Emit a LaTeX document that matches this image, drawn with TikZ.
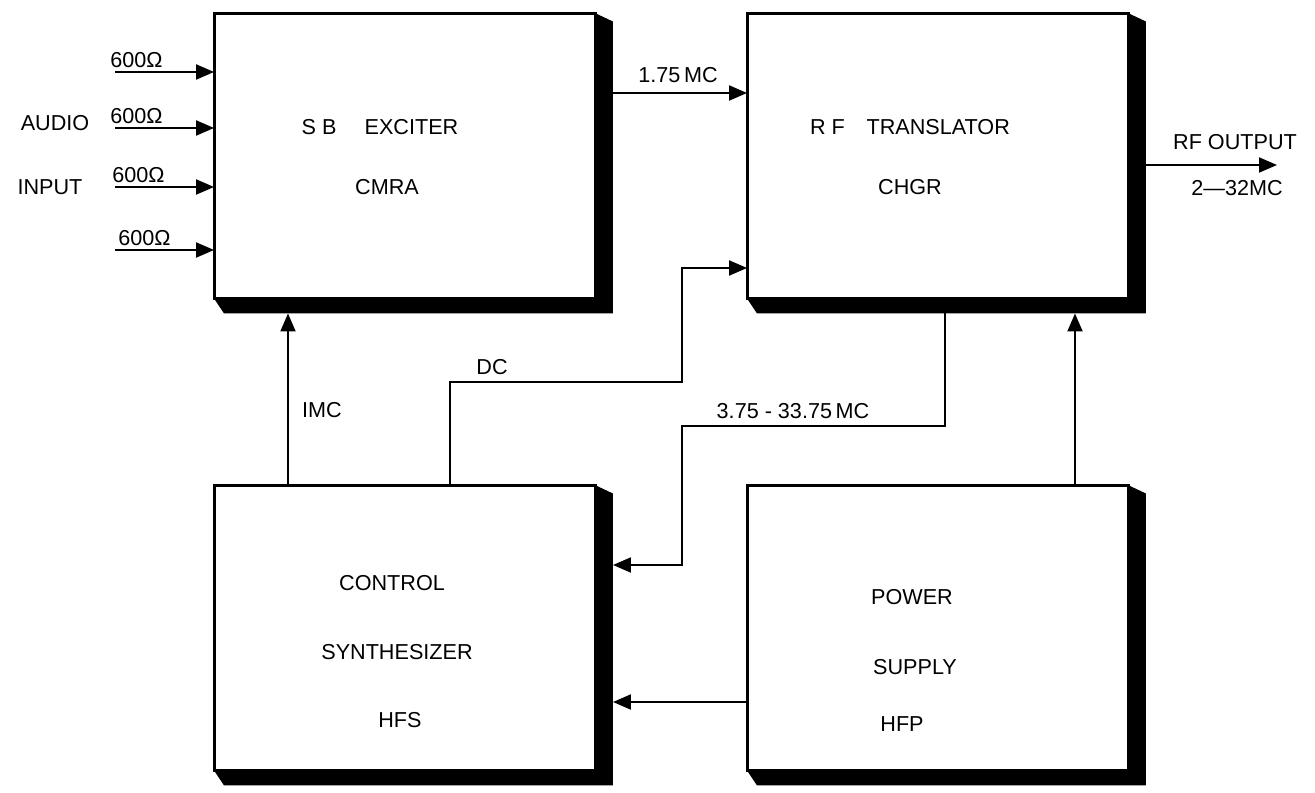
\documentclass[tikz,border=0pt]{standalone}
\usepackage{fontspec}
\setmainfont{Liberation Sans}
\usepackage{tikz}
\usetikzlibrary{arrows.meta,calc}

\begin{document}
\begin{tikzpicture}[x=0.02cm,y=-0.02cm,
blk/.style={rectangle,draw,line width=0.06cm,minimum width=7.64cm,minimum height=5.7cm,outer sep=0pt,inner sep=0pt},
sig/.style={-{Triangle[length=0.36cm,width=0.3cm]},line width=0.04cm},
lbl/.style={font=\fontsize{12.3}{14}\selectfont,inner sep=0pt}]
\useasboundingbox (0,0) rectangle (1315,793);
% the four units
\node[blk] (exc) at (405,156) {};
\node[blk] (trl) at (938,156) {};
\node[blk] (syn) at (405,628) {};
\node[blk] (psu) at (938,628) {};
\foreach \b in {exc,trl,syn,psu}
  \fill (\b.north east) -- ($(\b.north east)+(17,8)$) -- ($(\b.south east)+(17,15)$)
    -- ($(\b.south west)+(10,15)$) -- (\b.south west) -- (\b.south east) -- cycle;
% unit names
\node[lbl] (excA) at (380,127) {S B\hspace{1.3em}EXCITER};
\node[lbl] (excB) at (387,187) {CMRA};
\node[lbl] (trlA) at (910,127) {R F\hspace{1em}TRANSLATOR};
\node[lbl] (trlB) at (910,187) {CHGR};
\node[lbl] (synA) at (392,583) {CONTROL};
\node[lbl] (synB) at (397,652) {SYNTHESIZER};
\node[lbl] (synC) at (400,720) {HFS};
\node[lbl] (psuA) at (912,597) {POWER};
\node[lbl] (psuB) at (915,667) {SUPPLY};
\node[lbl] (psuC) at (902,724) {HFP};
% audio inputs
\foreach \x/\y [count=\i] in {110/72,110/128,112/187,118/250}{
  \coordinate (in\i) at (115,\y);
  \node[lbl,anchor=base west] (ohm\i) at (\x,\y-4) {600Ω};
  \draw[sig] (in\i) -- (in\i -| exc.west);
}
\node[lbl] (audio) at (55,123) {AUDIO};
\node[lbl] (input) at (50,187) {INPUT};
% signal paths
\draw[sig] (exc.east |- 0,93) -- (trl.west |- 0,93);
\node[lbl] (mc175) at (678,75) {1.75\,MC};
\coordinate (rfend) at (1277,165);
\draw[sig] (trl.east |- rfend) -- (rfend);
\node[lbl] (rfout) at (1235,142) {RF OUTPUT};
\node[lbl] (rfband) at (1237,188) {2—32MC};
\draw[sig] (syn.north -| 288,0) -- ($(exc.south -| 288,0)+(0,15)$);
\node[lbl] (imc) at (322,410) {IMC};
\draw[sig] (syn.north -| 450,0) |- (682,382) |- (trl.west |- 0,268);
\node[lbl] (dc) at (492,367) {DC};
\draw[sig] ($(trl.south -| 945,0)+(0,15)$) |- (682,426) |- ($(syn.east |- 0,565)+(17,0)$);
\node[lbl] (lofreq) at (793,411) {3.75 - 33.75\,MC};
\draw[sig] (psu.north -| 1075,0) -- ($(trl.south -| 1075,0)+(0,15)$);
\draw[sig] (psu.west |- 0,702) -- ($(syn.east |- 0,702)+(17,0)$);
\end{tikzpicture}
\end{document}
